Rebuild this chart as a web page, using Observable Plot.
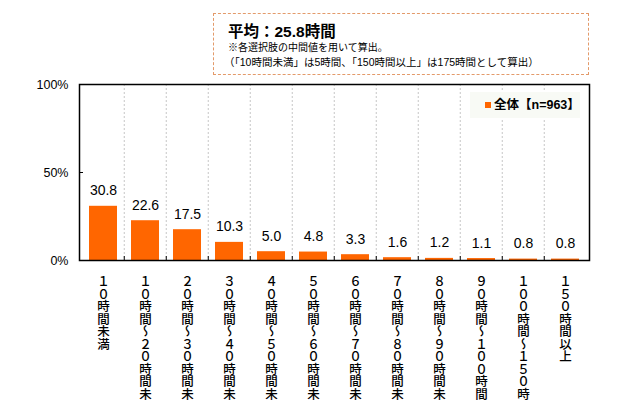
<!DOCTYPE html>
<html><head><meta charset="utf-8">
<script src="https://cdn.jsdelivr.net/npm/d3@7"></script>
<script src="https://cdn.jsdelivr.net/npm/@observablehq/plot@0.6"></script>
<style>
body{margin:0;background:#fff;font-family:"Liberation Sans","Noto Sans CJK JP",sans-serif;}
#wrap{position:relative;width:640px;height:400px;overflow:hidden;background:#fff;}
#note{position:absolute;left:213px;top:13px;width:374px;height:60px;border:1.5px dashed #E39A6A;box-sizing:content-box;}
#note .t1{position:absolute;left:14px;top:5px;font-size:15.5px;font-weight:bold;white-space:nowrap;}
#note .t2{position:absolute;left:14px;top:25px;font-size:10px;white-space:nowrap;}
#note .t3{position:absolute;left:10px;top:40px;font-size:10.5px;white-space:nowrap;}
#legend{position:absolute;left:470px;top:92px;width:110px;height:26px;background:#f8faf5;font-size:12.5px;font-weight:bold;line-height:26px;white-space:nowrap;}
#legend .sq{display:inline-block;width:6px;height:6px;background:#FF6600;margin:0 3px 2px 15px;vertical-align:middle;}
</style>
</head><body>
<div id="wrap">
<div id="chart"></div>
<div id="note">
  <div class="t1">平均：25.8時間</div>
  <div class="t2">※各選択肢の中間値を用いて算出。</div>
  <div class="t3">（「10時間未満」は5時間、「150時間以上」は175時間として算出）</div>
</div>
<div id="legend"><span class="sq"></span>全体【n=963】</div>
</div>
<script>
const categories = [
  "１０時間未満",
  "１０時間～２０時間未満",
  "２０時間～３０時間未満",
  "３０時間～４０時間未満",
  "４０時間～５０時間未満",
  "５０時間～６０時間未満",
  "６０時間～７０時間未満",
  "７０時間～８０時間未満",
  "８０時間～９０時間未満",
  "９０時間～１００時間未満",
  "１００時間～１５０時間未満",
  "１５０時間以上"
];
const values = [30.8, 22.6, 17.5, 10.3, 5.0, 4.8, 3.3, 1.6, 1.2, 1.1, 0.8, 0.8];
const yTicks = [0, 50, 100];

const data = categories.map((c, i) => ({cat: c, val: values[i]}));

const W = 640, H = 400, mL = 79, mR = 51, mT = 84, mB = 140;
const innerW = W - mL - mR, innerH = H - mT - mB;
const step = innerW / categories.length;

const chart = Plot.plot({
  width: W, height: H,
  marginLeft: mL, marginRight: mR, marginTop: mT, marginBottom: mB,
  style: {fontFamily: '"Liberation Sans","Noto Sans CJK JP",sans-serif', fontSize: "12px", color: "#000", background: "#fff"},
  x: {domain: categories, paddingInner: 0.34, paddingOuter: 0.17, align: 0.5, label: null},
  y: {domain: [0, 100], label: null},
  marks: [
    Plot.ruleX(categories.slice(1), {x: d => d, dx: -step / 2, stroke: "#c6c6c6", strokeWidth: 1, strokeDasharray: "2,2"}),
    Plot.barY(data, {x: "cat", y: "val", fill: "#FF6600"}),
    Plot.ruleX(categories.slice(1), {x: d => d, dx: -step / 2, stroke: "#000", strokeWidth: 1, insetTop: innerH - 4}),
    Plot.ruleY(yTicks, {y: d => d, stroke: "#000", strokeWidth: 1, insetRight: innerW - 4}),
    Plot.text(data, {x: "cat", y: "val", text: d => d.val.toFixed(1), dy: -11, lineAnchor: "bottom", fontSize: 14}),
    Plot.axisY({ticks: yTicks, tickFormat: d => d + "%", tickSize: 0, tickPadding: 11, fontSize: 12.5, label: null}),
    Plot.axisX({tickSize: 0, tickPadding: 6, fontSize: 12.5, label: null}),
    Plot.frame({stroke: "#000", strokeWidth: 1.5})
  ]
});
document.getElementById("chart").appendChild(chart);

d3.select(chart).selectAll('g[aria-label="x-axis tick label"] text')
  .attr("dy", null)
  .attr("text-anchor", "start")
  .style("writing-mode", "vertical-rl")
  .style("font-family", '"Noto Sans CJK JP",sans-serif')
  .style("font-weight", "500");
d3.select(chart).selectAll('g[aria-label="x-axis tick label"]').attr("text-anchor", "start");
</script>
</body></html>
